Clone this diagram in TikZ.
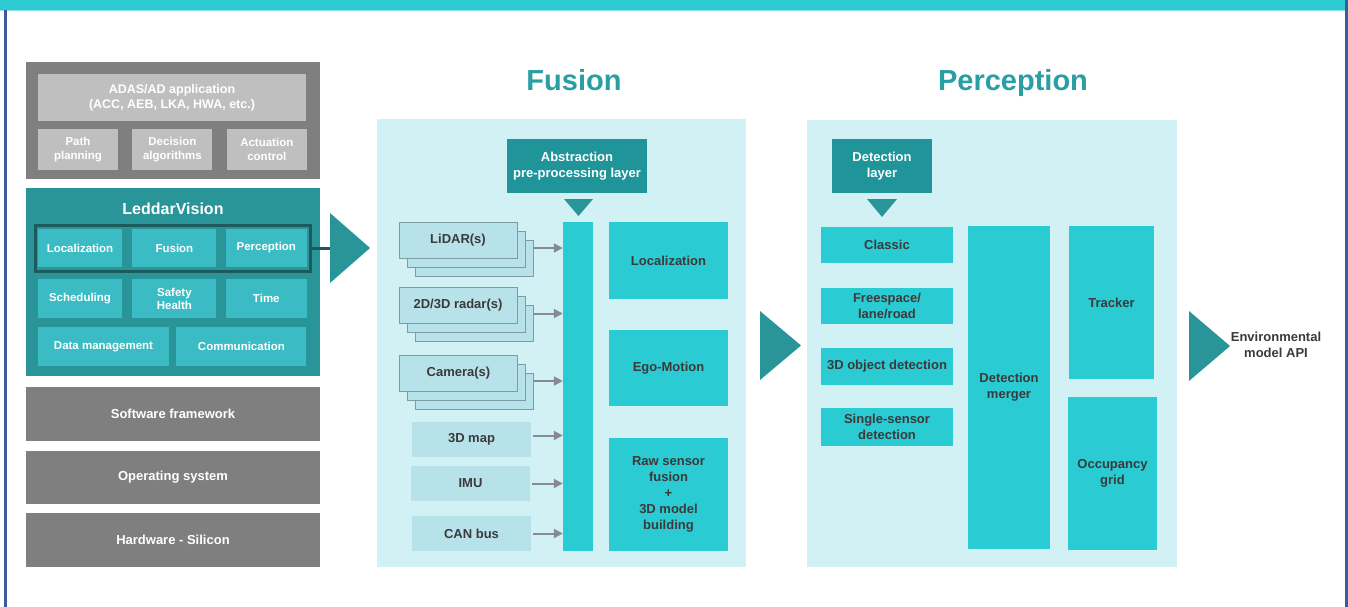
\documentclass[tikz,border=0pt]{standalone}
\usepackage{fontspec}
\setmainfont{Liberation Sans}
\usetikzlibrary{arrows.meta, positioning, shadows}

\definecolor{bandcyan}{HTML}{2ECBD3}
\definecolor{frameblue}{HTML}{3B5BA0}
\definecolor{panelbg}{HTML}{D1F1F4}
\definecolor{brightcyan}{HTML}{2BCBD3}
\definecolor{deepteal}{HTML}{2A9599}
\definecolor{abstteal}{HTML}{1F9499}
\definecolor{midteal}{HTML}{3BBCC4}
\definecolor{inputblue}{HTML}{B8E2EA}
\definecolor{inputedge}{HTML}{7F9CA3}
\definecolor{stackgray}{HTML}{7F7F7F}
\definecolor{appgray}{HTML}{BFBFBF}
\definecolor{textgray}{HTML}{3A3A3A}
\definecolor{arrowgray}{HTML}{858B91}
\definecolor{titleteal}{HTML}{299EA3}
\definecolor{framedark}{HTML}{1D5A5C}

\begin{document}
\begin{tikzpicture}[x=1pt, y=-1pt,
  base/.style={inner sep=0pt, align=center, font=\fontsize{13}{16}\selectfont\bfseries},
  graybox/.style={base, fill=stackgray, text=white, minimum width=294pt},
  appbox/.style={base, fill=appgray, text=white, minimum width=80pt, minimum height=41pt, font=\fontsize{11.5}{14}\selectfont\bfseries},
  leddarbox/.style={base, fill=midteal, text=white, font=\fontsize{11.5}{13}\selectfont\bfseries},
  fusebox/.style={base, fill=brightcyan, text=textgray},
  layerbox/.style={base, fill=abstteal, text=white, minimum height=54pt},
  sensor/.style={base, fill=inputblue, draw=inputedge, line width=1pt, minimum width=118pt, minimum height=36pt, text=textgray, double copy shadow={shadow xshift=8pt, shadow yshift=-9pt}},
  source/.style={base, fill=inputblue, minimum width=119pt, minimum height=35pt, text=textgray},
  feed/.style={draw=arrowgray, line width=2pt, -{Triangle[length=9pt, width=9pt]}},
  title/.style={anchor=base, font=\fontsize{29}{34}\selectfont\bfseries, text=titleteal}]

  \useasboundingbox (0,0) rectangle (1348,607);
  \fill[white] (0,0) rectangle (1348,607);
  \fill[bandcyan] (0,0) rectangle (1348,10);
  \fill[bandcyan!55] (0,10) rectangle (1345,11.5);
  \fill[frameblue] (4,10) rectangle (7,607);
  \fill[frameblue] (1345,0) rectangle (1348,607);

  % software stack
  \node[graybox, minimum height=117pt] (app) at (173,120.5) {};
  \node[appbox, minimum width=268pt, minimum height=47pt, font=\fontsize{12.5}{15}\selectfont\bfseries] (adas) at (172,97.5) {ADAS/AD application\\(ACC, AEB, LKA, HWA, etc.)};
  \node[appbox] (path) at (78,149.5) {Path\\planning};
  \node[appbox, right=14pt of path] (decision) {Decision\\algorithms};
  \node[appbox, right=14pt of decision] (actuation) {Actuation\\control};

  \node[base, fill=deepteal, minimum width=294pt, minimum height=188pt] (leddar) at (173,282) {};
  \node[base, font=\fontsize{16}{18}\selectfont\bfseries, text=white] (leddartitle) at (173,209) {LeddarVision};
  \node[leddarbox, minimum width=84pt, minimum height=38pt] (loc) at (80,248) {Localization};
  \node[leddarbox, minimum width=84pt, minimum height=38pt, right=10pt of loc] (fus) {Fusion};
  \node[leddarbox, minimum width=81pt, minimum height=38pt, right=9pt of fus] (perc) {Perception};
  \node[draw=framedark, line width=3pt, inner sep=0pt, minimum width=275pt, minimum height=46pt] (core) at (172.5,248) {};
  \node[leddarbox, minimum width=84pt, minimum height=39pt] (sched) at (80,298.5) {Scheduling};
  \node[leddarbox, minimum width=84pt, minimum height=39pt, right=10pt of sched] (safety) {Safety\\Health};
  \node[leddarbox, minimum width=81pt, minimum height=39pt, right=9pt of safety] (time) {Time};
  \node[leddarbox, minimum width=131pt, minimum height=39pt] (data) at (103.5,346.5) {Data management};
  \node[leddarbox, minimum width=130pt, minimum height=39pt, right=7pt of data] (comm) {Communication};

  \node[graybox, minimum height=54pt] (soft) at (173,414) {Software framework};
  \node[graybox, minimum height=53pt] (os) at (173,477.5) {Operating system};
  \node[graybox, minimum height=54pt] (hw) at (173,540) {Hardware - Silicon};

  \coordinate (a1) at (330,248);
  \draw[framedark, line width=3pt] (core.east) -- (a1);
  \fill[deepteal] (a1) ++(0,-35) -- ++(40,35) -- ++(-40,35) -- cycle;

  % fusion
  \fill[panelbg] (377,119) rectangle (746,567);
  \node[title] (fusiontitle) at (574,90.5) {Fusion};
  \node[layerbox, minimum width=140pt] (abst) at (577,166) {Abstraction\\pre-processing layer};
  \fill[deepteal] (564,199) -- (593,199) -- (578.5,216) -- cycle;
  \node[base, fill=brightcyan, minimum width=30pt, minimum height=329pt] (bar) at (578,386.5) {};
  \node[fusebox, minimum width=119pt, minimum height=77pt] (loc2) at (668.5,260.5) {Localization};
  \node[fusebox, minimum width=119pt, minimum height=76pt] (ego) at (668.5,368) {Ego-Motion};
  \node[fusebox, minimum width=119pt, minimum height=113pt] (raw) at (668.5,494.5) {Raw sensor\\fusion\\+\\3D model\\building};

  \node[sensor] (lidar) at (458,240) {LiDAR(s)};
  \node[sensor] (radar) at (458,305.5) {2D/3D radar(s)};
  \node[sensor] (camera) at (458.5,373) {Camera(s)};
  \node[source] (map) at (471.5,439.5) {3D map};
  \node[source] (imu) at (470.5,483.5) {IMU};
  \node[source] (can) at (471.5,533.5) {CAN bus};

  \foreach \s in {lidar, radar, camera}
    \draw[feed] ([shift={(16,8)}]\s.east) coordinate (\s-out) -- (\s-out -| bar.west);
  \foreach \s/\dy in {map/-4, imu/0, can/0}
    \draw[feed] ([shift={(2,\dy)}]\s.east) coordinate (\s-out) -- (\s-out -| bar.west);

  \fill[deepteal] (760,311) -- (801,345.5) -- (760,380) -- cycle;

  % perception
  \fill[panelbg] (807,120) rectangle (1177,567);
  \node[title] (perceptiontitle) at (1013,90.5) {Perception};
  \node[layerbox, minimum width=100pt] (detlayer) at (882,166) {Detection\\layer};
  \fill[deepteal] (867,199) -- (897,199) -- (882,217) -- cycle;
  \node[fusebox, minimum width=132pt, minimum height=36pt] (classic) at (887,245) {Classic};
  \node[fusebox, minimum width=132pt, minimum height=36pt] (freespace) at (887,306) {Freespace/\\lane/road};
  \node[fusebox, minimum width=132pt, minimum height=37pt] (objdet) at (887,366.5) {3D object detection};
  \node[fusebox, minimum width=132pt, minimum height=38pt] (single) at (887,427) {Single-sensor\\detection};
  \node[fusebox, minimum width=82pt, minimum height=323pt] (merger) at (1009,387.5) {Detection\\merger};
  \node[fusebox, minimum width=85pt, minimum height=153pt] (tracker) at (1111.5,302.5) {Tracker};
  \node[fusebox, minimum width=89pt, minimum height=153pt] (occupancy) at (1112.5,473.5) {Occupancy\\grid};

  \fill[deepteal] (1189,311) -- (1230,346) -- (1189,381) -- cycle;
  \node[base, text=textgray] (envapi) at (1276,345) {Environmental\\model API};
\end{tikzpicture}
\end{document}
